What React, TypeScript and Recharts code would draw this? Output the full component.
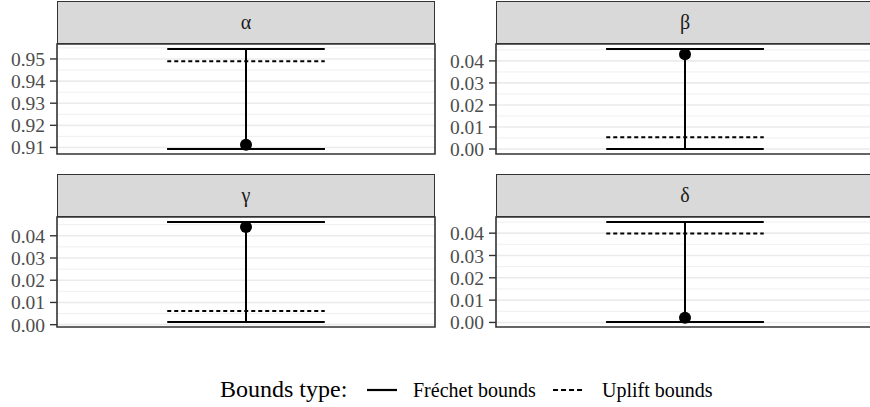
import React from 'react';
import {
  ComposedChart,
  Scatter,
  ErrorBar,
  XAxis,
  YAxis,
  CartesianGrid,
  ReferenceArea,
} from 'recharts';

// facet labels
const panels = ['α', 'β', 'γ', 'δ'];

// bounds
const frechetLow = [0.9093, 0.0, 0.0012, 0.0002];
const frechetHigh = [0.9545, 0.0454, 0.0462, 0.045];
const upliftLow = [0.9093, 0.0053, 0.0062, 0.0002];
const upliftHigh = [0.949, 0.0454, 0.0462, 0.0398];
const pointEstimate = [0.9112, 0.043, 0.0439, 0.0021];

const majorTicks = [
  [0.91, 0.92, 0.93, 0.94, 0.95],
  [0.0, 0.01, 0.02, 0.03, 0.04],
  [0.0, 0.01, 0.02, 0.03, 0.04],
  [0.0, 0.01, 0.02, 0.03, 0.04],
];
const minorTicks = [
  [0.915, 0.925, 0.935, 0.945, 0.955],
  [0.005, 0.015, 0.025, 0.035, 0.045],
  [0.005, 0.015, 0.025, 0.035, 0.045],
  [0.005, 0.015, 0.025, 0.035, 0.045],
];

const legendTitle = 'Bounds type:';
const legendLabels = ['Fréchet bounds', 'Uplift bounds'];

const FONT = '"Liberation Serif", "Times New Roman", serif';
const PLOT_W = 378;
const PLOT_H = 110;
const STRIP_H = 43;
const PAD = 14;
const colLeft = [57, 496];
const axisW = [57, 56];
const rowTop = [1, 174];
// ggplot: discrete axis expands 0.6 each side, errorbar width 0.5
const WHISKER = (PLOT_W * 0.25) / 1.2;

function yDomain(i: number): [number, number] {
  const lo = Math.min(frechetLow[i], upliftLow[i], pointEstimate[i]);
  const hi = Math.max(frechetHigh[i], upliftHigh[i], pointEstimate[i]);
  const pad = (hi - lo) * 0.05;
  return [lo - pad, hi + pad];
}

function Dot(props: any) {
  return <circle cx={props.cx} cy={props.cy} r={6} fill="#000" />;
}

function Hidden() {
  return <g />;
}

function Tick(props: any) {
  return (
    <text
      x={props.x}
      y={props.y}
      dy="0.36em"
      textAnchor="end"
      fill="#4D4D4D"
      fontSize={19.5}
      fontFamily={FONT}
    >
      {Number(props.payload.value).toFixed(2)}
    </text>
  );
}

function Panel({ i }: { i: number }) {
  const col = i % 2;
  const row = Math.floor(i / 2);
  const left = colLeft[col];
  const top = rowTop[row];
  const domain = yDomain(i);
  const p = pointEstimate[i];
  const data = [
    {
      x: 1,
      y: p,
      fre: [p - frechetLow[i], frechetHigh[i] - p],
      upl: [p - upliftLow[i], upliftHigh[i] - p],
    },
  ];

  return (
    <>
      <div
        style={{
          position: 'absolute',
          left,
          top,
          width: PLOT_W,
          height: STRIP_H,
          boxSizing: 'border-box',
          background: '#D9D9D9',
          border: '1.5px solid #333333',
          display: 'flex',
          alignItems: 'center',
          justifyContent: 'center',
          fontFamily: FONT,
          fontSize: 20,
          color: '#1A1A1A',
        }}
      >
        {panels[i]}
      </div>
      <div
        style={{
          position: 'absolute',
          left: left - axisW[col],
          top: top + STRIP_H - PAD,
        }}
      >
        <ComposedChart
          width={axisW[col] + PLOT_W + 2}
          height={PLOT_H + PAD * 2}
          data={data}
          margin={{ top: PAD, right: 2, bottom: PAD, left: 0 }}
        >
          <CartesianGrid
            vertical={false}
            horizontalValues={minorTicks[i]}
            stroke="#EBEBEB"
            strokeWidth={0.8}
          />
          <CartesianGrid
            vertical={false}
            horizontalValues={majorTicks[i]}
            stroke="#EBEBEB"
            strokeWidth={1.6}
          />
          <XAxis type="number" dataKey="x" domain={[0.4, 1.6]} hide />
          <YAxis
            type="number"
            dataKey="y"
            domain={domain}
            ticks={majorTicks[i]}
            width={axisW[col]}
            axisLine={false}
            tickSize={7}
            tickMargin={5}
            tickLine={{ stroke: '#333333', strokeWidth: 1.4 }}
            tick={Tick}
            interval={0}
          />
          <Scatter dataKey="y" shape={Hidden} isAnimationActive={false}>
            <ErrorBar
              dataKey="upl"
              direction="y"
              width={WHISKER}
              stroke="#000"
              strokeWidth={2}
              strokeDasharray="4 3"
              isAnimationActive={false}
            />
          </Scatter>
          <Scatter dataKey="y" shape={Dot} isAnimationActive={false}>
            <ErrorBar
              dataKey="fre"
              direction="y"
              width={WHISKER}
              stroke="#000"
              strokeWidth={2}
              isAnimationActive={false}
            />
          </Scatter>
          <ReferenceArea
            x1={0.4}
            x2={1.6}
            y1={domain[0]}
            y2={domain[1]}
            fill="none"
            stroke="#333333"
            strokeWidth={1.6}
            ifOverflow="visible"
          />
        </ComposedChart>
      </div>
    </>
  );
}

function Legend() {
  return (
    <svg
      width={870}
      height={47}
      style={{ position: 'absolute', left: 0, top: 360 }}
      fontFamily={FONT}
    >
      <text x={220} y={37} fontSize={24} fill="#000">
        {legendTitle}
      </text>
      <line x1={367} x2={397} y1={30} y2={30} stroke="#000" strokeWidth={2.2} />
      <text x={413} y={37} fontSize={20} fill="#000">
        {legendLabels[0]}
      </text>
      <line
        x1={553}
        x2={585}
        y1={30}
        y2={30}
        stroke="#000"
        strokeWidth={2.2}
        strokeDasharray="5 3"
      />
      <text x={602} y={37} fontSize={20} fill="#000">
        {legendLabels[1]}
      </text>
    </svg>
  );
}

export default function App() {
  return (
    <div
      style={{
        position: 'absolute',
        left: 0,
        top: 0,
        width: 870,
        height: 407,
        overflow: 'hidden',
        background: '#fff',
        fontFamily: FONT,
      }}
    >
      {panels.map((_, i) => (
        <Panel key={i} i={i} />
      ))}
      <Legend />
    </div>
  );
}
